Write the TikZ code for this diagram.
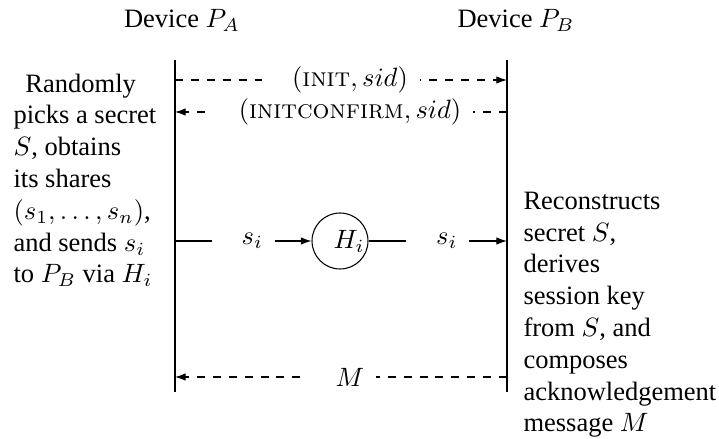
\documentclass[tikz,border=0pt]{standalone}
\usepackage{fontspec}
\setmainfont{Liberation Serif}
\usetikzlibrary{arrows.meta}
\newcommand{\lmsmallcaps}[1]{{\fontfamily{lmr}\selectfont\scshape #1}}
\begin{document}
\begin{tikzpicture}[x=0.37736pt,y=-0.37736pt,
  lbl/.style={fill=white, inner xsep=4.5pt, inner ysep=1pt},
  tipped/.style={-{Latex[length=4pt,width=2.8pt]}},
  msg/.style={tipped, dashed},
  desc/.style={align=left, anchor=base west, inner sep=0pt},
  hub/.style={draw, circle, minimum size=21.13pt, inner sep=0pt}]
\useasboundingbox (0,0) rectangle (719,439);
% headings
\node[anchor=base] (devA) at (182,28) {Device $P_A$};
\node[anchor=base] (devB) at (516,28) {Device $P_B$};
% lifelines
\coordinate (LAt) at (175,60);
\coordinate (LAb) at (175,392);
\coordinate (LBt) at (507,60);
\coordinate (LBb) at (507,392);
\draw (LAt) -- (LAb);
\draw (LBt) -- (LBb);
% row points
\coordinate (A1) at (175,80);  \coordinate (B1) at (507,80);
\coordinate (A2) at (175,112); \coordinate (B2) at (507,112);
\coordinate (A3) at (175,241); \coordinate (B3) at (507,241);
\coordinate (A4) at (175,377); \coordinate (B4) at (507,377);
% helper
\node[hub] (H) at (340,241) {\hspace*{6.8pt}$H_i$};
% messages
\draw[msg] (A1) -- node[lbl] (m1) {\hspace*{6.8pt}$(\mbox{\lmsmallcaps{init}}, sid)$} (B1);
\draw[msg] (B2) -- node[lbl] (m2) {\hspace*{6.8pt}$(\mbox{\lmsmallcaps{initconfirm}}, sid)$} (A2);
\draw[tipped] (A3) -- node[lbl] (m3) {\hspace*{6.8pt}$s_i$} (H);
\draw[tipped] (H) -- node[lbl] (m4) {\hspace*{6.8pt}$s_i$} (B3);
\draw[msg] (B4) -- node[lbl] (m5) {\hspace*{6.8pt}$M$} (A4);
% descriptions (base anchor = baseline of last line)
\node[desc] (dA) at (13,283) {\hspace*{4.5pt}Randomly\\
picks a secret\\
$S$, obtains\\
its shares\\
$(s_1,\ldots,s_n)$,\\
and sends $s_i$\\
to $P_B$ via $H_i$};
\node[desc] (dB) at (523,432) {Reconstructs\\
secret $S$,\\
derives\\
session key\\
from $S$, and\\
composes\\
acknowledgement\\
message $M$};
\end{tikzpicture}
\end{document}
